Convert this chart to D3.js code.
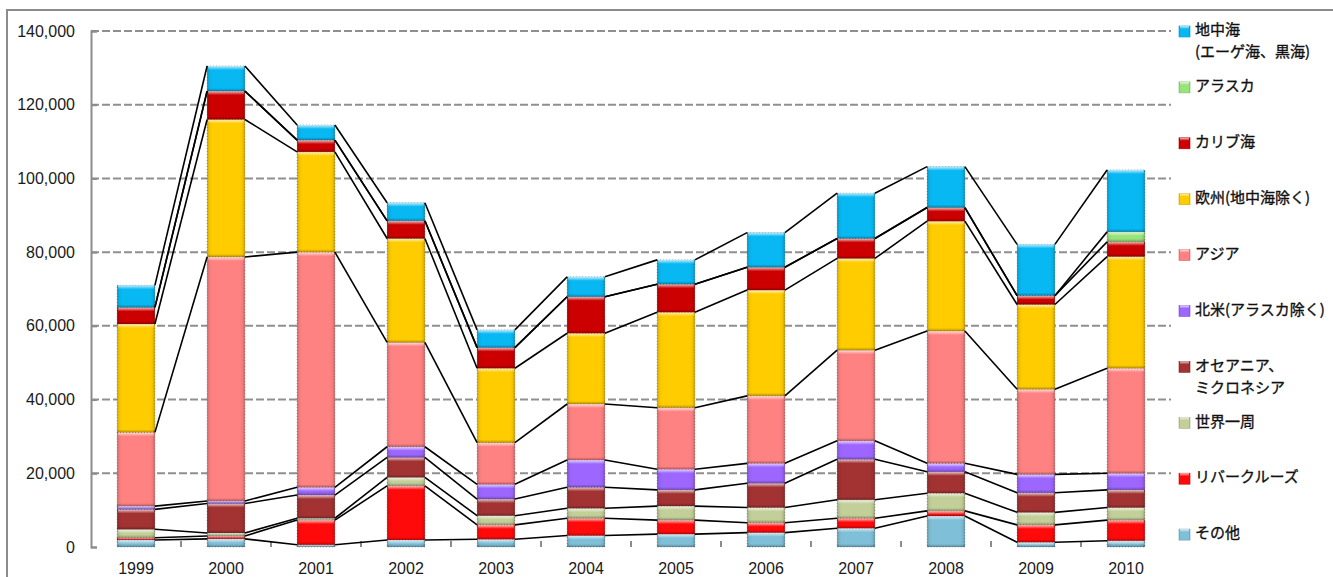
<!DOCTYPE html>
<html lang="ja">
<head>
<meta charset="utf-8">
<script src="https://cdn.jsdelivr.net/npm/d3@7"></script>
<style>
  html, body { margin: 0; padding: 0; background: #fff; }
  svg { display: block; }
  .tick-label { font-family: "Liberation Sans", Arial, sans-serif; font-size: 16px; fill: #1a1a1a; }
  .legend-text { font-family: "Noto Sans CJK JP", sans-serif; font-size: 15px; fill: #111; stroke: #111; stroke-width: 0.35px; }
</style>
</head>
<body>
<svg id="chart" width="1333" height="577"></svg>
<script>
// Cruise passengers by destination, 1999–2010 (stacked bottom → top)
const years = ["1999", "2000", "2001", "2002", "2003", "2004", "2005", "2006", "2007", "2008", "2009", "2010"];

const other         = [1900, 2200, 600, 1900, 2100, 3100, 3500, 3900, 5100, 8400, 1300, 1700];
const riverCruise   = [600, 800, 6700, 14700, 3900, 4700, 3800, 2700, 2700, 1400, 4700, 5600];
const worldCruise   = [2300, 800, 500, 2300, 2500, 2700, 3800, 4100, 5000, 4800, 3400, 3400];
const oceania       = [5400, 8000, 6300, 5400, 4500, 5700, 4400, 6600, 11000, 5800, 5300, 4800];
const northAmerica  = [900, 700, 2100, 2900, 4000, 7400, 5600, 5400, 5000, 2300, 5000, 4500];
const asia          = [20000, 66200, 63800, 28300, 11300, 15200, 16700, 18300, 24600, 35900, 23100, 28500];
const europe        = [29400, 37300, 27200, 28200, 20200, 19200, 25900, 28700, 24900, 29800, 23000, 30300];
const caribbean     = [4500, 7700, 3200, 4800, 5600, 9900, 7600, 6200, 5400, 3700, 2400, 4000];
const alaska        = [0, 0, 0, 0, 0, 0, 0, 0, 0, 0, 0, 2700];
const mediterranean = [6000, 6800, 4100, 4900, 4800, 5400, 6600, 9400, 12300, 11100, 13900, 16800];

const yTicks = [0, 20000, 40000, 60000, 80000, 100000, 120000, 140000];

// series definitions in stacking order
const series = [
  { key: "other",   label: ["その他"],                     color: "#7fc0d8", values: other },
  { key: "river",   label: ["リバークルーズ"],             color: "#ff0a0a", values: riverCruise },
  { key: "world",   label: ["世界一周"],                   color: "#c3cf98", values: worldCruise },
  { key: "oceania", label: ["オセアニア、", "ミクロネシア"], color: "#a33232", values: oceania },
  { key: "na",      label: ["北米(アラスカ除く)"],         color: "#9c66ff", values: northAmerica },
  { key: "asia",    label: ["アジア"],                     color: "#ff8282", values: asia },
  { key: "europe",  label: ["欧州(地中海除く)"],           color: "#ffcc00", values: europe },
  { key: "carib",   label: ["カリブ海"],                   color: "#cc0000", values: caribbean },
  { key: "alaska",  label: ["アラスカ"],                   color: "#99e47a", values: alaska },
  { key: "med",     label: ["地中海", "(エーゲ海、黒海)"],  color: "#08b8f2", values: mediterranean }
];

const table = years.map((yr, i) => {
  const row = { year: yr };
  series.forEach(s => { row[s.key] = s.values[i]; });
  return row;
});

const svg = d3.select("#chart");
const defs = svg.append("defs");

const plot = { left: 91, right: 1171, top: 31, bottom: 547 };

const x = d3.scaleBand()
  .domain(years)
  .range([plot.left, plot.right])
  .paddingInner(0.58)
  .paddingOuter(0.29);

const y = d3.scaleLinear()
  .domain([0, 140000])
  .range([plot.bottom, plot.top]);

// outer frame of the chart area
svg.append("rect")
  .attr("x", 7).attr("y", 10)
  .attr("width", 1400).attr("height", 700)
  .attr("fill", "none")
  .attr("stroke", "#8c8c8c")
  .attr("stroke-width", 2);

// dashed horizontal gridlines
svg.append("g")
  .selectAll("line")
  .data(yTicks.filter(d => d > 0))
  .join("line")
  .attr("x1", plot.left).attr("x2", plot.right)
  .attr("y1", d => y(d)).attr("y2", d => y(d))
  .attr("stroke", "#8f8f8f")
  .attr("stroke-width", 2)
  .attr("stroke-dasharray", "8,3");

// y axis
const yAxis = svg.append("g")
  .attr("transform", `translate(${plot.left},0)`)
  .call(d3.axisRight(y).tickValues(yTicks).tickSize(6).tickFormat(""));
yAxis.select(".domain").attr("stroke", "#8c8c8c").attr("stroke-width", 2);
yAxis.selectAll(".tick line").attr("stroke", "#8c8c8c").attr("stroke-width", 2);

svg.append("g")
  .selectAll("text")
  .data(yTicks)
  .join("text")
  .attr("class", "tick-label")
  .attr("x", 75)
  .attr("y", d => y(d))
  .attr("dy", "0.35em")
  .attr("text-anchor", "end")
  .text(d3.format(","));

// x axis: inside ticks at the category boundaries
const boundaries = d3.range(1, years.length).map(i => plot.left + i * x.step());
svg.append("g")
  .selectAll("line")
  .data(boundaries)
  .join("line")
  .attr("x1", d => d).attr("x2", d => d)
  .attr("y1", plot.bottom).attr("y2", plot.bottom - 6)
  .attr("stroke", "#8c8c8c")
  .attr("stroke-width", 2);

svg.append("g")
  .selectAll("text")
  .data(years)
  .join("text")
  .attr("class", "tick-label")
  .attr("x", d => x(d) + x.bandwidth() / 2)
  .attr("y", 568)
  .attr("dy", "0.35em")
  .attr("text-anchor", "middle")
  .text(d => d);

// gradients giving the bevelled look to each colour
series.forEach(s => {
  const base = d3.color(s.color);
  const g = defs.append("linearGradient")
    .attr("id", "grad-" + s.key)
    .attr("x1", "0").attr("x2", "1").attr("y1", "0").attr("y2", "0");
  g.append("stop").attr("offset", "0%").attr("stop-color", base.darker(0.6));
  g.append("stop").attr("offset", "7%").attr("stop-color", base.darker(0.1));
  g.append("stop").attr("offset", "14%").attr("stop-color", base);
  g.append("stop").attr("offset", "86%").attr("stop-color", base);
  g.append("stop").attr("offset", "93%").attr("stop-color", base.darker(0.1));
  g.append("stop").attr("offset", "100%").attr("stop-color", base.darker(0.7));
});
const hl = defs.append("linearGradient").attr("id", "top-hl")
  .attr("x1", 0).attr("x2", 0).attr("y1", 0).attr("y2", 1);
hl.append("stop").attr("offset", "0%").attr("stop-color", "#fff").attr("stop-opacity", 0.75);
hl.append("stop").attr("offset", "100%").attr("stop-color", "#fff").attr("stop-opacity", 0);
const sh = defs.append("linearGradient").attr("id", "bot-sh")
  .attr("x1", 0).attr("x2", 0).attr("y1", 0).attr("y2", 1);
sh.append("stop").attr("offset", "0%").attr("stop-color", "#000").attr("stop-opacity", 0);
sh.append("stop").attr("offset", "100%").attr("stop-color", "#000").attr("stop-opacity", 0.28);

const stack = d3.stack().keys(series.map(s => s.key));
const stacked = stack(table);

// bars
const barLayer = svg.append("g");
stacked.forEach((layer, li) => {
  const s = series[li];
  const g = barLayer.append("g");
  const segs = layer.filter(d => d[1] - d[0] > 0);
  g.selectAll("rect.seg")
    .data(segs)
    .join("rect")
    .attr("class", "seg")
    .attr("x", d => x(d.data.year))
    .attr("y", d => y(d[1]))
    .attr("width", x.bandwidth())
    .attr("height", d => y(d[0]) - y(d[1]))
    .attr("fill", `url(#grad-${s.key})`)
    .attr("stroke", "#3a3a3a")
    .attr("stroke-opacity", 0.55)
    .attr("stroke-width", 0.8)
    .attr("stroke-dasharray", "1,2");
  g.selectAll("rect.hl")
    .data(segs)
    .join("rect")
    .attr("class", "hl")
    .attr("x", d => x(d.data.year) + 1)
    .attr("y", d => y(d[1]))
    .attr("width", x.bandwidth() - 2)
    .attr("height", d => Math.min(4, y(d[0]) - y(d[1])))
    .attr("fill", "url(#top-hl)");
  g.selectAll("rect.sh")
    .data(segs)
    .join("rect")
    .attr("class", "sh")
    .attr("x", d => x(d.data.year))
    .attr("y", d => y(d[0]) - Math.min(3, y(d[0]) - y(d[1])))
    .attr("width", x.bandwidth())
    .attr("height", d => Math.min(3, y(d[0]) - y(d[1])))
    .attr("fill", "url(#bot-sh)");
});

// series lines joining the top of each series between neighbouring bars
const lineLayer = svg.append("g");
stacked.forEach(layer => {
  const pairs = d3.pairs(layer);
  lineLayer.selectAll(null)
    .data(pairs)
    .join("line")
    .attr("x1", ([a]) => x(a.data.year) + x.bandwidth())
    .attr("y1", ([a]) => y(a[1]))
    .attr("x2", ([, b]) => x(b.data.year))
    .attr("y2", ([, b]) => y(b[1]))
    .attr("stroke", "#000")
    .attr("stroke-width", 1.6);
});

// legend, top entry first
const legendItems = series.slice().reverse();
const legend = svg.append("g");
legendItems.forEach((s, i) => {
  const cy = 30 + i * 55.9;
  const base = d3.color(s.color);
  legend.append("rect")
    .attr("x", 1179).attr("y", cy - 4)
    .attr("width", 11).attr("height", 11)
    .attr("fill", `url(#grad-${s.key})`)
    .attr("stroke", base.darker(0.5))
    .attr("stroke-width", 0.6);
  legend.append("rect")
    .attr("x", 1180).attr("y", cy - 4)
    .attr("width", 9).attr("height", 3)
    .attr("fill", "url(#top-hl)");
  s.label.forEach((line, k) => {
    legend.append("text")
      .attr("class", "legend-text")
      .attr("x", 1195)
      .attr("y", cy + k * 22)
      .attr("dy", "0.35em")
      .text(line);
  });
});
</script>
</body>
</html>
